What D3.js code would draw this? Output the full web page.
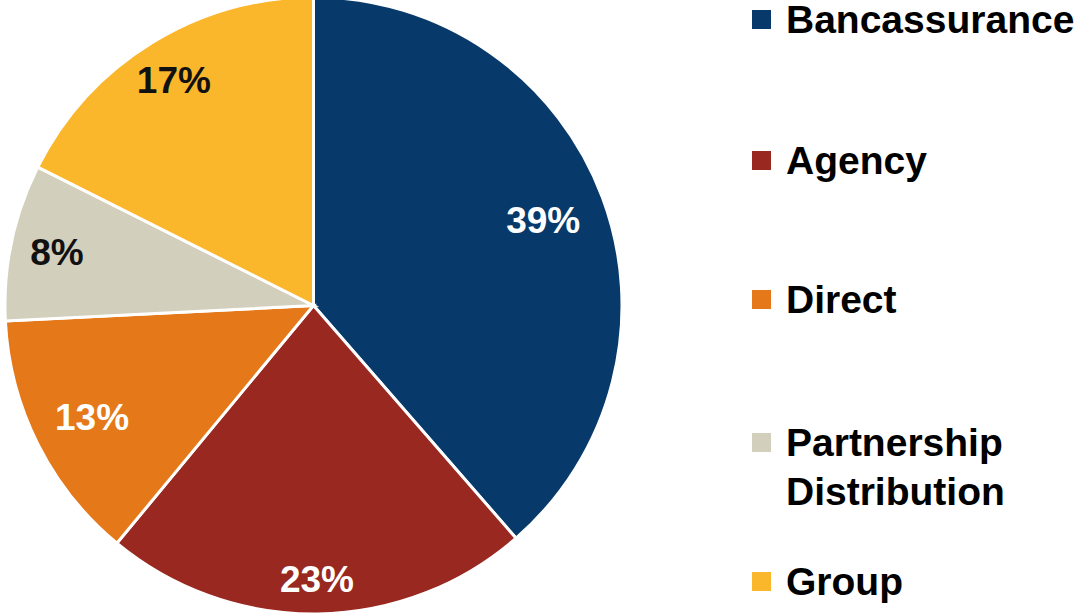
<!DOCTYPE html>
<html>
<head>
<meta charset="utf-8">
<script src="https://cdn.jsdelivr.net/npm/d3@7"></script>
<style>
  html, body { margin: 0; padding: 0; background: #fff; }
  svg { display: block; }
  text { font-family: "Liberation Sans", Arial, sans-serif; font-weight: bold; }
</style>
</head>
<body>
<svg id="chart" width="1081" height="613"></svg>
<script>
// Data
const categories = ["Bancassurance", "Agency", "Direct", "Partnership Distribution", "Group"];
const values = [38.6, 22.4, 13.2, 8.2, 17.6];
const valueLabels = ["39%", "23%", "13%", "8%", "17%"];
const colors = ["#073a6b", "#982820", "#e57818", "#d2cfbc", "#fbb72b"];
const labelColors = ["#ffffff", "#ffffff", "#ffffff", "#111111", "#111111"];

// Layout
const W = 1081, H = 613;
const cx = 313.5, cy = 305.5, R = 308.5;
const labelRadiusFactor = [0.795, 0.887, 0.803, 0.85, 0.862];

const svg = d3.select("#chart");
const g = svg.append("g").attr("transform", `translate(${cx},${cy})`);

const pie = d3.pie().sort(null).value(d => d.value);
const arcs = pie(categories.map((c, i) => ({ name: c, value: values[i], i })));
const arc = d3.arc().innerRadius(0).outerRadius(R);

g.selectAll("path.slice")
  .data(arcs)
  .join("path")
  .attr("class", "slice")
  .attr("d", arc)
  .attr("fill", d => colors[d.data.i])
  .attr("stroke", "#fff")
  .attr("stroke-width", 3)
  .attr("stroke-linejoin", "miter");

g.selectAll("text.pct")
  .data(arcs)
  .join("text")
  .attr("class", "pct")
  .attr("transform", d => {
    const r = R * labelRadiusFactor[d.data.i];
    const a = d3.arc().innerRadius(r).outerRadius(r);
    const [x, y] = a.centroid(d);
    return `translate(${x},${y})`;
  })
  .attr("text-anchor", "middle")
  .attr("dy", "0.36em")
  .attr("font-size", 37)
  .attr("fill", d => labelColors[d.data.i])
  .text(d => valueLabels[d.data.i]);

// Legend
const legendBaselines = [33, 174, 313, 456, 595];
const legend = svg.append("g");
categories.forEach((c, i) => {
  const by = legendBaselines[i];
  legend.append("rect")
    .attr("x", 752).attr("y", by - 23)
    .attr("width", 19).attr("height", 19)
    .attr("fill", colors[i]);
  const words = c === "Partnership Distribution" ? ["Partnership", "Distribution"] : [c];
  const t = legend.append("text")
    .attr("x", 786).attr("y", by)
    .attr("font-size", 39)
    .attr("fill", "#000");
  words.forEach((w, k) => {
    t.append("tspan").attr("x", 786).attr("dy", k === 0 ? 0 : 49).text(w);
  });
});
</script>
</body>
</html>
